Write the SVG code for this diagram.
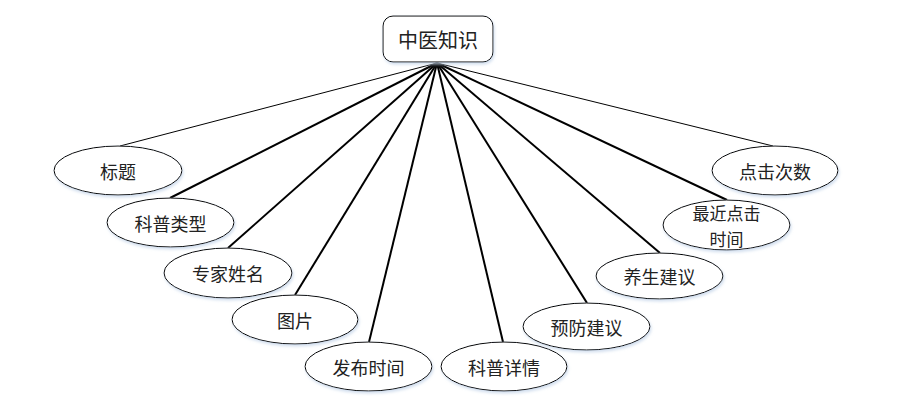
<svg xmlns="http://www.w3.org/2000/svg" width="902" height="407" viewBox="0 0 902 407">
<defs>
<filter id="sh" x="-20%" y="-20%" width="140%" height="150%">
<feGaussianBlur in="SourceAlpha" stdDeviation="1.5"/>
<feOffset dx="1" dy="2" result="b"/>
<feFlood flood-color="#c6d6ea" flood-opacity="0.8"/>
<feComposite in2="b" operator="in"/>
<feMerge><feMergeNode/><feMergeNode in="SourceGraphic"/></feMerge>
</filter>
</defs>
<style>
.n{fill:#fff;stroke:#000;stroke-width:1;filter:url(#sh)}
.t{font-family:"Noto Sans CJK SC","Noto Sans",sans-serif;font-size:18px;fill:#222;text-anchor:middle;dominant-baseline:central}
.e{stroke:#000;stroke-width:2;fill:none}
.e1{stroke:#000;stroke-width:1;fill:none}
</style>
<rect width="902" height="407" fill="#fff"/>
<g id="connectors">
<line class="e1" x1="437" y1="63" x2="120" y2="146"/>
<line class="e" x1="437" y1="63" x2="170" y2="198"/>
<line class="e" x1="437" y1="63" x2="228" y2="248"/>
<line class="e" x1="437" y1="63" x2="295" y2="295"/>
<line class="e" x1="437" y1="63" x2="369" y2="342"/>
<line class="e" x1="437" y1="63" x2="503" y2="342"/>
<line class="e" x1="437" y1="63" x2="587" y2="303"/>
<line class="e" x1="437" y1="63" x2="660" y2="253"/>
<line class="e" x1="437" y1="63" x2="727" y2="200"/>
<line class="e1" x1="437" y1="63" x2="773" y2="146"/>
</g>
<g id="root">
<rect class="n" x="383" y="16" width="110" height="46" rx="10"/>
<text class="t" x="438" y="39" style="font-size:20px">中医知识</text>
</g>
<g id="n1"><ellipse class="n" cx="118" cy="170.5" rx="64" ry="24.5"/><text class="t" x="118" y="170.5">标题</text></g>
<g id="n2"><ellipse class="n" cx="170.5" cy="222.5" rx="63.5" ry="24.5"/><text class="t" x="170.5" y="222.5">科普类型</text></g>
<g id="n3"><ellipse class="n" cx="228" cy="273" rx="64" ry="25"/><text class="t" x="228" y="273">专家姓名</text></g>
<g id="n4"><ellipse class="n" cx="295" cy="319.5" rx="63" ry="24.5"/><text class="t" x="295" y="319.5">图片</text></g>
<g id="n5"><ellipse class="n" cx="368.5" cy="366.5" rx="63.5" ry="24.5"/><text class="t" x="368.5" y="366.5">发布时间</text></g>
<g id="n6"><ellipse class="n" cx="504" cy="366.5" rx="63" ry="24.5"/><text class="t" x="504" y="366.5">科普详情</text></g>
<g id="n7"><ellipse class="n" cx="586.5" cy="326.5" rx="63.5" ry="23.5"/><text class="t" x="586.5" y="326.5">预防建议</text></g>
<g id="n8"><ellipse class="n" cx="659.5" cy="276" rx="63.5" ry="23"/><text class="t" x="659.5" y="276">养生建议</text></g>
<g id="n9"><ellipse class="n" cx="726.5" cy="225" rx="63.5" ry="25"/><text class="t" x="726.5" y="212" style="font-size:17px">最近点击</text><text class="t" x="726.5" y="238" style="font-size:17px">时间</text></g>
<g id="n10"><ellipse class="n" cx="775" cy="170.5" rx="63" ry="24.5"/><text class="t" x="775" y="170.5">点击次数</text></g>
</svg>
